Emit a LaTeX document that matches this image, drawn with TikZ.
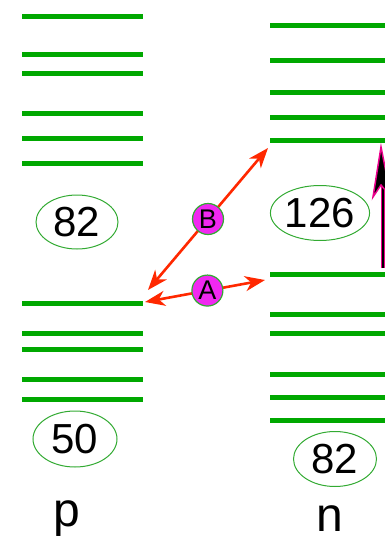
\documentclass[tikz,border=0pt]{standalone}
\usepackage{fontspec}
\setmainfont{Liberation Sans}
\usetikzlibrary{arrows.meta,shapes.geometric}
\definecolor{levelgreen}{RGB}{0,168,0}
\definecolor{ringgreen}{RGB}{50,170,50}
\definecolor{jumpred}{RGB}{255,40,0}
\definecolor{ballpink}{RGB}{240,40,240}
\tikzset{
  magic/.style={draw=ringgreen, line width=1pt, ellipse, inner sep=0pt, font=\fontsize{42}{42}\selectfont},
  ball/.style={circle, fill=ballpink, draw=ringgreen, text=black, line width=1.2pt, minimum size=31pt, inner sep=0pt, font=\fontsize{27}{27}\selectfont},
  jump/.style={jumpred, line width=2.6pt, {Stealth[length=20pt,width=15pt,inset=6pt]}-{Stealth[length=20pt,width=15pt,inset=6pt]}},
  side/.style={font=\fontsize{48}{48}\selectfont, anchor=base, inner sep=0pt}
}
\begin{document}
\begin{tikzpicture}[x=1pt, y=-1pt]
  \useasboundingbox (0,0) rectangle (384,539);
  % proton levels
  \foreach \y in {16,54,73,113,138,163,303,333,349,379,399}
    \draw[levelgreen, line width=5pt] (22,\y) -- (143,\y);
  % neutron levels
  \foreach \y in {25,60,92,117,140,274,314,333,374,397,420}
    \draw[levelgreen, line width=5pt] (270,\y) -- (390,\y);
  % shell closures
  \node[magic, minimum width=82pt, minimum height=54pt] (p82) at (77,222) {82};
  \node[magic, minimum width=84pt, minimum height=56pt] (p50) at (75,439) {50};
  \node[magic, minimum width=93pt, minimum height=55pt] (n126) at (320,213) {126};
  \node[magic, minimum width=83pt, minimum height=55pt] (n82) at (335,459) {82};
  \node[side] (plab) at (67,526) {p};
  \node[side] (nlab) at (330,531) {n};
  % transitions
  \coordinate (pB) at (148,290);
  \coordinate (nB) at (268,148);
  \coordinate (pA) at (145,302);
  \coordinate (nA) at (265,280);
  \draw[jump] (pB) -- node[ball] (B) {B} (nB);
  \draw[jump] (pA) -- node[ball, pos=0.52] (A) {A} (nA);
  % excitation arrow
  \coordinate (up0) at (383,268);
  \coordinate (up1) at (383,186);
  \draw[magenta, line width=5pt] (up0) -- (up1);
  \draw[black, line width=2pt] (up0) -- (up1);
  \filldraw[fill=black, draw=magenta, line width=1.5pt] (381,147) -- (373,197) -- (381,185) -- (391,197) -- cycle;
\end{tikzpicture}
\end{document}
